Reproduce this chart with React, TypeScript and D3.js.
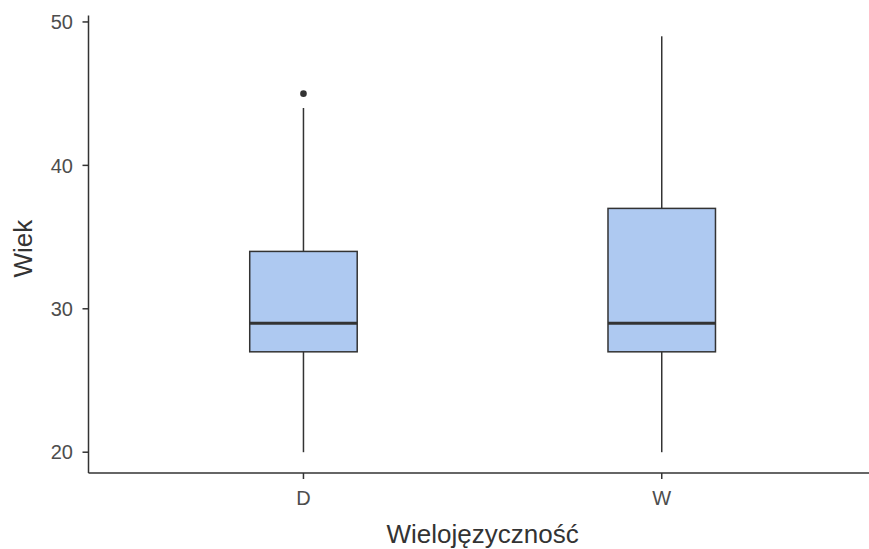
import React from "react";
import * as d3 from "d3";

const categories = ["D", "W"];
const lowerWhisker = [20, 20];
const q1 = [27, 27];
const median = [29, 29];
const q3 = [34, 37];
const upperWhisker = [44, 49];
const outliers: number[][] = [[45], []];
const yTicks = [20, 30, 40, 50];
const xTitle = "Wielojęzyczność";
const yTitle = "Wiek";

const W = 869;
const H = 549;

export default function App() {
  const y = d3.scaleLinear().domain([18.55, 50.45]).range([473, 15.5]);
  const x = d3.scaleLinear().domain([0.4, 2.6]).range([88.5, 876.7]);
  const boxHalf = 0.15;
  const font = "'Liberation Sans', Arial, sans-serif";
  const stroke = "#333333";
  return (
    <svg width={W} height={H} style={{ position: "absolute", left: 0, top: 0 }} fontFamily={font}>
      <rect x={0} y={0} width={W} height={H} fill="#ffffff" />
      {categories.map((c, i) => {
        const cx = x(i + 1);
        const x0 = x(i + 1 - boxHalf);
        const x1 = x(i + 1 + boxHalf);
        return (
          <g key={c}>
            <line x1={cx} x2={cx} y1={y(q3[i])} y2={y(upperWhisker[i])} stroke={stroke} strokeWidth={1.5} />
            <line x1={cx} x2={cx} y1={y(q1[i])} y2={y(lowerWhisker[i])} stroke={stroke} strokeWidth={1.5} />
            <rect x={x0} y={y(q3[i])} width={x1 - x0} height={y(q1[i]) - y(q3[i])} fill="#aec9f1" stroke={stroke} strokeWidth={1.5} />
            <line x1={x0} x2={x1} y1={y(median[i])} y2={y(median[i])} stroke={stroke} strokeWidth={3} />
            {outliers[i].map((o, j) => (
              <circle key={j} cx={cx} cy={y(o)} r={3.3} fill={stroke} />
            ))}
          </g>
        );
      })}
      {/* y axis */}
      <line x1={88.5} x2={88.5} y1={15.5} y2={473} stroke={stroke} strokeWidth={1.5} />
      {yTicks.map((t) => (
        <g key={t}>
          <line x1={82.5} x2={88.5} y1={y(t)} y2={y(t)} stroke={stroke} strokeWidth={1.5} />
          <text x={73} y={y(t)} dy="0.36em" textAnchor="end" fontSize={20} fill="#4d4d4d">
            {t}
          </text>
        </g>
      ))}
      {/* x axis */}
      <line x1={88.5} x2={W} y1={473} y2={473} stroke={stroke} strokeWidth={1.5} />
      {categories.map((c, i) => (
        <g key={c}>
          <line x1={x(i + 1)} x2={x(i + 1)} y1={473} y2={479} stroke={stroke} strokeWidth={1.5} />
          <text x={x(i + 1)} y={505} textAnchor="middle" fontSize={20} fill="#4d4d4d">
            {c}
          </text>
        </g>
      ))}
      <text x={x(1.5)} y={543} textAnchor="middle" fontSize={26} fill="#333333">
        {xTitle}
      </text>
      <text transform={`translate(32, ${y(34.2)}) rotate(-90)`} textAnchor="middle" fontSize={26} fill="#333333">
        {yTitle}
      </text>
    </svg>
  );
}
